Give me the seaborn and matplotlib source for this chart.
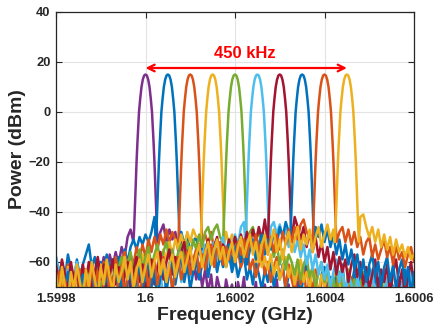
import numpy as np
import pandas as pd
import matplotlib
matplotlib.use("Agg")
import matplotlib.pyplot as plt
import seaborn as sns

# ---------------- data ----------------
centers_ghz = [1.6, 1.60005, 1.6001, 1.60015, 1.6002, 1.60025, 1.6003, 1.60035, 1.6004, 1.60045]
colors = ["#7E2F8E", "#0072BD", "#D95319", "#EDB120", "#77AC30",
          "#4DBEEE", "#A2142F", "#0072BD", "#D95319", "#EDB120"]

# main-lobe profile (offset in kHz, power in dBm)
peak_offset_khz = [-27, -25.5, -24, -22, -20, -18, -16, -14.5, -12, -9, -6, -3, 0,
                   3, 6, 9, 12, 14.5, 16, 18, 20, 22, 24, 25.5, 27]
peak_dbm = [-52, -47, -40, -30, -20, -12, -5, 0, 5, 10, 13, 14.6, 15,
            14.6, 13, 10, 5, 0, -5, -12, -20, -30, -40, -47, -52]
peak_window_khz = 27

# noise floor of each trace, sampled on 121 points from 1.5998 to 1.6006 GHz
noise_ch0 = [-68,-74,-63,-71,-77,-66,-72,-62,-75,-67,
             -63,-71,-60,-68,-59,-64,-58,-66,-57,-62,
             -56,-61,-54,-58,-50,-47,-50,-50,-50,-50,
             -50,-50,-50,-50,-50,-48,-45,-52,-47,-51,
             -48,-56,-52,-60,-55,-64,-58,-67,-61,-70,
             -63,-72,-65,-76,-66,-71,-78,-67,-73,-69,
             -77,-68,-74,-66,-79,-71,-75,-68,-80,-72,
             -69,-78,-70,-75,-67,-80,-73,-76,-69,-81,
             -72,-68,-79,-71,-76,-67,-82,-73,-70,-78,
             -71,-77,-68,-80,-72,-75,-69,-79,-74,-70,
             -78,-71,-76,-68,-81,-73,-70,-79,-72,-77,
             -69,-80,-74,-71,-78,-70,-76,-73,-81,-72,-75]
noise_ch1 = [-58,-65,-60,-67,-57,-63,-69,-59,-66,-61,
             -57,-53,-62,-58,-66,-60,-64,-57,-63,-59,
             -65,-58,-62,-55,-60,-54,-51,-55,-50,-53,
             -49,-52,-48,-42,-50,-50,-50,-50,-50,-50,
             -50,-50,-48,-53,-49,-56,-52,-50,-57,-53,
             -59,-54,-61,-56,-63,-58,-55,-62,-57,-64,
             -59,-66,-61,-57,-67,-62,-69,-60,-65,-71,
             -63,-68,-60,-70,-64,-67,-61,-72,-65,-62,
             -69,-64,-73,-66,-60,-70,-63,-68,-74,-65,
             -62,-71,-66,-75,-64,-69,-61,-73,-67,-70,
             -63,-72,-66,-76,-68,-62,-71,-65,-74,-69,
             -64,-73,-67,-70,-78,-66,-72,-63,-75,-68,-70]
noise_ch2 = [-70,-64,-74,-67,-61,-72,-65,-77,-63,-69,
             -66,-73,-61,-68,-63,-70,-60,-66,-62,-69,
             -58,-65,-60,-56,-63,-57,-61,-54,-59,-53,
             -58,-51,-56,-50,-55,-49,-53,-47,-52,-48,
             -51,-50,-50,-50,-50,-50,-50,-50,-50,-50,
             -49,-53,-48,-55,-51,-57,-53,-59,-55,-52,
             -60,-56,-62,-58,-54,-63,-59,-66,-61,-57,
             -65,-60,-68,-62,-58,-66,-63,-70,-61,-67,
             -72,-64,-69,-62,-74,-66,-71,-63,-76,-68,
             -65,-73,-67,-78,-70,-64,-75,-69,-72,-66,
             -77,-70,-74,-67,-79,-71,-68,-76,-73,-80,
             -72,-69,-77,-74,-70,-81,-73,-76,-71,-78,-74]
noise_ch3 = [-64,-72,-67,-76,-62,-70,-74,-65,-71,-68,
             -73,-63,-69,-66,-75,-61,-68,-64,-71,-60,
             -67,-62,-70,-58,-65,-61,-68,-59,-64,-57,
             -62,-56,-63,-58,-54,-60,-55,-59,-52,-57,
             -51,-55,-49,-54,-48,-52,-47,-50,-50,-50,
             -50,-50,-50,-50,-50,-50,-50,-48,-53,-49,
             -55,-51,-57,-53,-59,-55,-52,-60,-56,-62,
             -58,-63,-57,-65,-60,-67,-62,-58,-66,-61,
             -69,-63,-59,-68,-64,-71,-62,-67,-73,-65,
             -70,-63,-74,-67,-61,-72,-66,-76,-64,-70,
             -75,-68,-72,-78,-66,-74,-69,-77,-71,-73,
             -68,-79,-72,-75,-70,-77,-73,-80,-71,-74,-78]
noise_ch4 = [-72,-67,-76,-70,-64,-74,-69,-78,-66,-71,
             -75,-68,-63,-72,-66,-74,-61,-69,-65,-60,
             -68,-62,-58,-66,-61,-56,-64,-59,-55,-63,
             -58,-54,-62,-57,-53,-60,-56,-52,-59,-55,
             -61,-56,-53,-60,-52,-57,-51,-55,-49,-54,
             -48,-46,-51,-47,-45,-50,-50,-50,-50,-50,
             -50,-50,-50,-50,-50,-48,-46,-52,-47,-54,
             -49,-56,-51,-58,-53,-61,-55,-63,-57,-60,
             -65,-59,-67,-61,-58,-66,-62,-70,-64,-60,
             -68,-62,-72,-66,-74,-64,-70,-76,-63,-71,
             -67,-75,-69,-64,-73,-68,-77,-71,-74,-66,
             -79,-72,-67,-76,-70,-80,-73,-68,-77,-71,-75]
noise_ch5 = [-58,-64,-61,-69,-63,-72,-65,-60,-70,-66,
             -74,-67,-62,-71,-65,-76,-68,-63,-73,-66,
             -78,-69,-64,-75,-67,-79,-70,-65,-77,-68,
             -62,-73,-66,-61,-71,-64,-75,-67,-60,-70,
             -64,-59,-68,-61,-57,-66,-60,-55,-64,-58,
             -53,-61,-56,-52,-59,-54,-50,-57,-51,-55,
             -49,-53,-46,-44,-50,-50,-50,-50,-50,-50,
             -50,-50,-46,-44,-49,-45,-50,-47,-54,-49,
             -56,-51,-58,-53,-61,-55,-63,-57,-65,-60,
             -67,-61,-70,-64,-59,-68,-62,-73,-65,-69,
             -75,-66,-71,-78,-67,-73,-63,-76,-69,-79,
             -72,-66,-76,-70,-80,-73,-68,-77,-71,-64,-74]
noise_ch6 = [-61,-68,-59,-65,-71,-60,-67,-62,-73,-61,
             -68,-60,-70,-64,-58,-67,-61,-72,-65,-59,
             -69,-62,-74,-65,-60,-71,-63,-58,-68,-61,
             -72,-64,-59,-69,-62,-56,-67,-60,-55,-65,
             -58,-63,-56,-52,-62,-55,-65,-58,-53,-61,
             -56,-51,-60,-54,-50,-59,-53,-57,-51,-56,
             -50,-55,-49,-54,-48,-53,-47,-52,-46,-51,
             -43,-50,-50,-50,-50,-50,-50,-50,-50,-50,
             -42,-46,-51,-46,-54,-48,-56,-50,-58,-52,
             -60,-54,-63,-56,-65,-58,-64,-59,-68,-61,
             -57,-66,-60,-69,-62,-71,-65,-59,-70,-63,
             -68,-61,-73,-64,-59,-70,-63,-74,-66,-60,-69]
noise_ch7 = [-73,-66,-77,-69,-64,-75,-68,-79,-70,-65,
             -76,-69,-64,-73,-67,-78,-70,-65,-74,-68,
             -62,-72,-66,-77,-68,-63,-74,-67,-61,-71,
             -65,-60,-70,-63,-75,-66,-61,-72,-64,-59,
             -69,-62,-58,-68,-61,-71,-64,-59,-67,-61,
             -57,-66,-59,-55,-64,-57,-62,-56,-53,-61,
             -55,-52,-60,-54,-61,-55,-51,-59,-53,-49,
             -57,-51,-55,-48,-53,-46,-50,-44,-48,-50,
             -50,-50,-50,-50,-50,-50,-50,-46,-50,-45,
             -52,-47,-54,-49,-57,-51,-59,-53,-61,-55,
             -63,-57,-66,-59,-68,-61,-57,-66,-60,-70,
             -62,-58,-68,-61,-71,-63,-59,-69,-62,-73,-64]
noise_ch8 = [-71,-64,-75,-67,-78,-65,-72,-62,-69,-76,
             -65,-73,-61,-70,-64,-77,-68,-62,-72,-66,
             -75,-67,-62,-73,-65,-60,-70,-63,-74,-66,
             -61,-71,-64,-59,-69,-62,-58,-68,-61,-72,
             -63,-58,-67,-61,-56,-65,-59,-55,-64,-57,
             -63,-56,-53,-62,-55,-52,-61,-54,-59,-53,
             -60,-52,-57,-51,-58,-50,-55,-49,-54,-59,
             -51,-57,-50,-56,-49,-55,-48,-53,-47,-52,
             -46,-51,-45,-43,-48,-50,-50,-50,-50,-50,
             -50,-50,-50,-50,-50,-48,-46,-52,-47,-53,
             -48,-54,-50,-57,-52,-50,-58,-53,-59,-55,
             -51,-58,-54,-61,-53,-59,-56,-62,-57,-54,-60]
noise_ch9 = [-65,-73,-62,-70,-76,-64,-71,-61,-68,-75,
             -63,-70,-60,-67,-74,-62,-69,-59,-66,-72,
             -61,-68,-64,-58,-67,-60,-71,-63,-59,-68,
             -62,-57,-66,-60,-56,-65,-59,-68,-61,-57,
             -66,-60,-56,-64,-59,-54,-63,-57,-53,-62,
             -56,-52,-61,-55,-51,-59,-54,-62,-56,-52,
             -60,-54,-50,-58,-53,-49,-57,-52,-60,-53,
             -49,-57,-52,-47,-56,-51,-59,-52,-48,-56,
             -51,-46,-55,-49,-53,-47,-56,-50,-46,-54,
             -49,-45,-51,-47,-50,-50,-50,-50,-50,-50,
             -50,-50,-42,-41,-46,-50,-46,-52,-47,-54,
             -49,-55,-50,-57,-51,-56,-53,-58,-54,-59,-57]
noise_all = [noise_ch0, noise_ch1, noise_ch2, noise_ch3, noise_ch4,
             noise_ch5, noise_ch6, noise_ch7, noise_ch8, noise_ch9]

xticks = [1.5998, 1.6, 1.6002, 1.6004, 1.6006]
xtick_labels = ["1.5998", "1.6", "1.6002", "1.6004", "1.6006"]
yticks = [-60, -40, -20, 0, 20, 40]
span_label = "450 kHz"

# ---------------- assemble ----------------
grid = np.linspace(1.5998, 1.6006, len(noise_ch0))
rows = []
for k, (c, nz) in enumerate(zip(centers_ghz, noise_all)):
    nz = np.asarray(nz, float)
    keep = np.abs(grid - c) * 1e6 > peak_window_khz + 0.01
    fx = np.concatenate([grid[keep], c + np.asarray(peak_offset_khz) * 1e-6])
    fy = np.concatenate([nz[keep], np.asarray(peak_dbm, float)])
    o = np.argsort(fx)
    rows.append(pd.DataFrame({"freq": fx[o], "power": fy[o], "ch": f"ch{k}"}))
df = pd.concat(rows, ignore_index=True)
order = [f"ch{k}" for k in range(len(centers_ghz))]

# ---------------- plot ----------------
sns.set_theme(style="white")
plt.rcParams["font.family"] = ["Liberation Sans", "DejaVu Sans"]
plt.rcParams["font.weight"] = "bold"

fig = plt.figure(figsize=(4.34, 3.34), dpi=100)
ax = fig.add_axes([56/434, 1-287/334, 358/434, 275/334])

sns.lineplot(data=df, x="freq", y="power", hue="ch", hue_order=order,
             palette=colors, estimator=None, sort=True, lw=1.8,
             legend=False, ax=ax)

ax.set_xlim(1.5998, 1.6006)
ax.set_ylim(-70, 40)
ax.set_xticks(xticks)
ax.set_xticklabels(xtick_labels)
ax.set_yticks(yticks)
ax.grid(True, color="#e3e3e3", lw=0.8)
ax.set_axisbelow(True)
for s in ax.spines.values():
    s.set_visible(True)
    s.set_color("#262626")
    s.set_linewidth(0.9)
ax.tick_params(direction="in", length=4, width=0.8, colors="#262626",
               labelsize=9.3, top=True, right=True, bottom=True, left=True,
               labeltop=False, labelright=False, pad=4)
for lab in ax.get_xticklabels() + ax.get_yticklabels():
    lab.set_fontweight("bold")

ax.set_xlabel("Frequency (GHz)", fontsize=14, fontweight="bold", color="#262626", labelpad=2)
ax.set_ylabel("Power (dBm)", fontsize=14, fontweight="bold", color="#262626")
ax.yaxis.set_label_coords(-0.085, 0.5)

ax.annotate("", xy=(centers_ghz[0], 17.6), xytext=(centers_ghz[-1], 17.6),
            arrowprops=dict(arrowstyle="<->", color="red", lw=1.6,
                            mutation_scale=12, shrinkA=0, shrinkB=0))
ax.text((centers_ghz[0] + centers_ghz[-1]) / 2 - 0.000002, 23.5, span_label,
        color="red", fontsize=12, fontweight="bold", ha="center", va="center")

fig.savefig("out.png", dpi=100)
